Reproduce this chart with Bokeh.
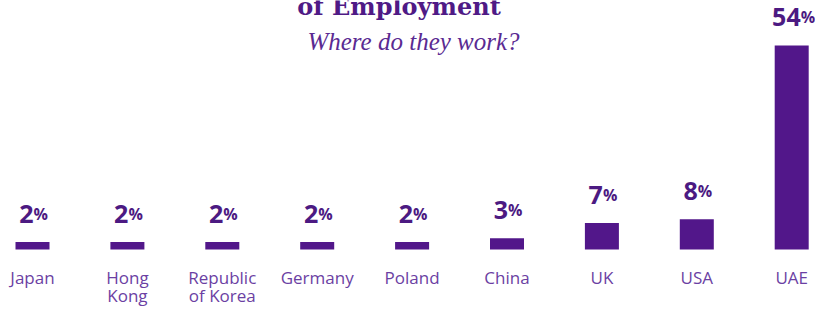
from bokeh.plotting import figure
from bokeh.models import ColumnDataSource, Label, Range1d
from bokeh.core.properties import value
from bokeh.embed import file_html
from bokeh.resources import INLINE

categories = ["Japan", "Hong\nKong", "Republic\nof Korea", "Germany", "Poland", "China", "UK", "USA", "UAE"]
shares = [2, 2, 2, 2, 2, 3, 7, 8, 54]
title_text = "of Employment"
subtitle_text = "Where do they work?"

W, H = 815, 306
PX_PER_UNIT = 3.778
BASE_PX = H - 249     # px from bottom where 0% sits
SPACING = 94.9
FIRST_PX = 32
TEXT_SHIFT = 8        # svg text renders a bit low; compensate

BAR_COLOR = "#52178a"
NUM_COLOR = "#4c1a82"
LABEL_COLOR = "#6b3fa3"

idx = list(range(len(categories)))
line1 = [c.split("\n")[0] for c in categories]
line2 = [c.split("\n")[1] if "\n" in c else "" for c in categories]
nums = [str(v) for v in shares]
num_y = [v + (19 + TEXT_SHIFT + 1) / PX_PER_UNIT for v in shares]
split_off = [(len(n) - 1) * 8 + 1 for n in nums]

src = ColumnDataSource(dict(x=idx, top=shares, nums=nums, num_y=num_y, off=split_off,
                            pct=["%"] * len(idx), l1=line1, l2=line2))

p = figure(width=W, height=H, output_backend="svg", toolbar_location=None,
           min_border=0, outline_line_color=None, background_fill_color="white",
           border_fill_color="white")
p.x_range = Range1d(-FIRST_PX / SPACING, (W - FIRST_PX) / SPACING)
p.y_range = Range1d(-BASE_PX / PX_PER_UNIT, (H - BASE_PX) / PX_PER_UNIT)
p.axis.visible = False
p.grid.visible = False

p.vbar(x="x", top="top", bottom=0, width=34 / SPACING, source=src,
       fill_color=BAR_COLOR, line_color=None)

# value numbers (big) and percent sign (small)
p.text(x="x", y="num_y", text="nums", source=src, x_offset="off",
       text_align="right", text_baseline="alphabetic",
       text_font=value("Open Sans"), text_font_style="bold", text_font_size="25px",
       text_color=NUM_COLOR)
p.text(x="x", y="num_y", text="pct", source=src, x_offset="off",
       text_align="left", text_baseline="alphabetic",
       text_font=value("Open Sans"), text_font_style="bold", text_font_size="16px",
       text_color=NUM_COLOR)

# category labels
y1 = ((H - 277) - BASE_PX) / PX_PER_UNIT
y2 = ((H - 295) - BASE_PX) / PX_PER_UNIT
p.text(x="x", y=y1, text="l1", source=src, text_align="center", text_baseline="alphabetic",
       text_font=value("Open Sans"), text_font_size="17px", text_color=LABEL_COLOR)
p.text(x="x", y=y2, text="l2", source=src, text_align="center", text_baseline="alphabetic",
       text_font=value("Open Sans"), text_font_size="17px", text_color=LABEL_COLOR)

p.add_layout(Label(x=398.5, y=H - 6, x_units="screen", y_units="screen", text=title_text,
                   text_align="center", text_baseline="alphabetic",
                   text_font="DejaVu Serif", text_font_style="bold", text_font_size="24px",
                   text_color="#4f1a86"))
p.add_layout(Label(x=413, y=H - 41, x_units="screen", y_units="screen", text=subtitle_text,
                   text_align="center", text_baseline="alphabetic",
                   text_font="Liberation Serif", text_font_style="italic", text_font_size="25px",
                   text_color="#5a2a92"))

open("out.html", "w").write(file_html(p, INLINE))
